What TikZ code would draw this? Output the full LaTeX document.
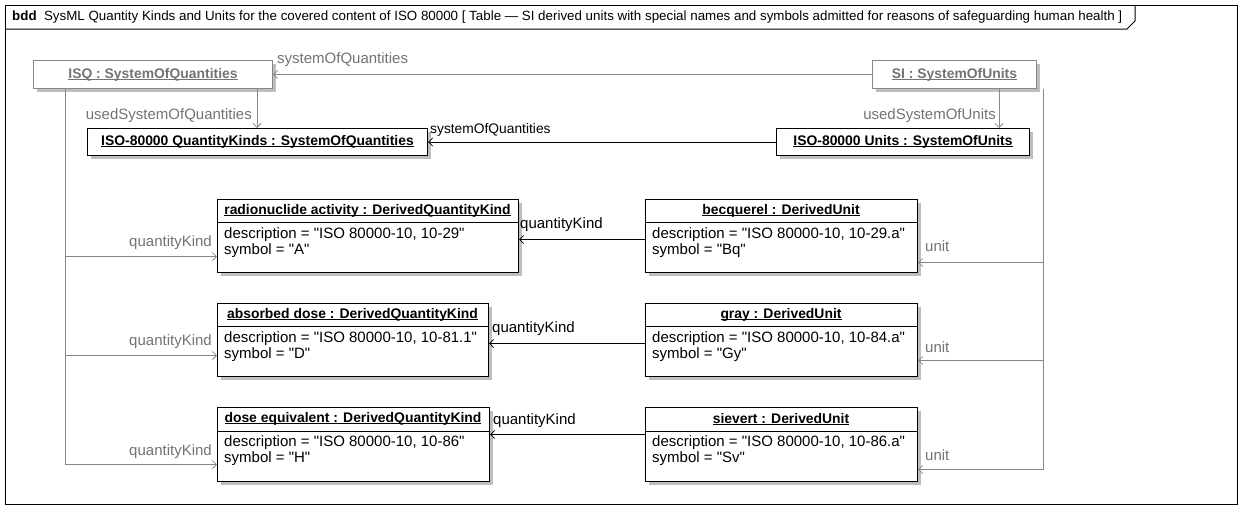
\documentclass[tikz,border=0pt]{standalone}
\usepackage{fontspec}
\setmainfont{Liberation Sans}[Ligatures=TeXOff]
\usetikzlibrary{arrows.meta,shadows}
\definecolor{gline}{RGB}{135,135,135}
\definecolor{gtext}{RGB}{115,115,115}
\definecolor{shade}{RGB}{190,190,190}
\newcommand\hul[1]{\setbox0\hbox{#1}\rlap{\rule[-1.6pt]{\wd0}{0.8pt}}\box0}
\tikzset{
  obox/.style={draw=black, line width=1pt, fill=white, anchor=north west, inner sep=0pt,
    drop shadow={shadow xshift=3pt, shadow yshift=-3pt, fill=shade, opacity=1}},
  gbox/.style={obox, draw=gline},
  hdr/.style={font=\fontsize{13.9}{15}\selectfont\bfseries, inner sep=0pt},
  ghdr/.style={hdr, text=gtext},
  attr/.style={font=\fontsize{15}{16}\selectfont, align=left, anchor=north west, inner sep=0pt},
  lbl/.style={font=\fontsize{15}{16}\selectfont, inner sep=0pt},
  glbl/.style={lbl, text=gtext},
  sepline/.style={line width=0.8pt},
  barb/.tip={Straight Barb[length=4pt,width=8pt,line width=0.8pt]},
  garrow/.style={draw=gline, line width=1pt, -barb},
  barrow/.style={draw=black, line width=1pt, -barb},
}
\begin{document}
\begin{tikzpicture}[x=1pt,y=-1pt]
\useasboundingbox (0,0) rectangle (1241,506);
% frame
\draw[line width=1pt] (5,5) rectangle (1237,504);
\draw[line width=1pt] (5,29) -- (1127,29) -- (1135,21) -- (1135,5);
\node[anchor=west, inner sep=0pt, font=\fontsize{13.35}{14}\selectfont] (title) at (12,17)
  {\textbf{bdd}\ \ SysML Quantity Kinds and Units for the covered content of ISO 80000 [ Table — SI derived units with special names and symbols admitted for reasons of safeguarding human health ]};

% top level boxes
\node[gbox, minimum width=239pt, minimum height=28pt] (ISQ) at (33,60) {};
\node[ghdr] (ISQh) at (ISQ.center) {\hul{ISQ : SystemOfQuantities}};
\node[gbox, minimum width=164pt, minimum height=28pt] (SI) at (872,60) {};
\node[ghdr] (SIh) at (SI.center) {\hul{SI : SystemOfUnits}};
\node[obox, minimum width=340pt, minimum height=27pt] (QK) at (87,128) {};
\node[hdr] (QKh) at (QK.center) {\hul{ISO-80000 QuantityKinds : SystemOfQuantities}};
\node[obox, minimum width=253pt, minimum height=27pt] (UN) at (776,128) {};
\node[hdr] (UNh) at (UN.center) {\hul{ISO-80000 Units : SystemOfUnits}};

% quantity kinds
\node[obox, minimum width=301pt, minimum height=73pt] (ra) at (217,199) {};
\draw[sepline] (217,222) -- (518,222);
\node[hdr] (rah) at (367.5,211) {\hul{radionuclide activity : DerivedQuantityKind}};
\node[attr] (raa) at (224,227) {description = "ISO 80000-10, 10-29"\\symbol = "A"};

\node[obox, minimum width=271pt, minimum height=73pt] (ab) at (217,303) {};
\draw[sepline] (217,326) -- (488,326);
\node[hdr] (abh) at (352.5,315) {\hul{absorbed dose : DerivedQuantityKind}};
\node[attr] (aba) at (224,331) {description = "ISO 80000-10, 10-81.1"\\symbol = "D"};

\node[obox, minimum width=272pt, minimum height=74pt] (de) at (217,407) {};
\draw[sepline] (217,431) -- (489,431);
\node[hdr] (deh) at (353,419) {\hul{dose equivalent : DerivedQuantityKind}};
\node[attr] (dea) at (224,435) {description = "ISO 80000-10, 10-86"\\symbol = "H"};

% units
\node[obox, minimum width=272pt, minimum height=73pt] (bq) at (645,199) {};
\draw[sepline] (645,222) -- (917,222);
\node[hdr] (bqh) at (781,211) {\hul{becquerel : DerivedUnit}};
\node[attr] (bqa) at (652,227) {description = "ISO 80000-10, 10-29.a"\\symbol = "Bq"};

\node[obox, minimum width=272pt, minimum height=73pt] (gy) at (645,303) {};
\draw[sepline] (645,326) -- (917,326);
\node[hdr] (gyh) at (781,315) {\hul{gray : DerivedUnit}};
\node[attr] (gya) at (652,331) {description = "ISO 80000-10, 10-84.a"\\symbol = "Gy"};

\node[obox, minimum width=272pt, minimum height=74pt] (sv) at (645,407) {};
\draw[sepline] (645,431) -- (917,431);
\node[hdr] (svh) at (781,419) {\hul{sievert : DerivedUnit}};
\node[attr] (sva) at (652,435) {description = "ISO 80000-10, 10-86.a"\\symbol = "Sv"};

% helper coordinates
\coordinate (isqX) at (65,0);
\coordinate (isqU) at (257,0);
\coordinate (siX) at (1043,0);
\coordinate (siU) at (999,0);

% connectors
\draw[garrow] (SI.west) -- (ISQ.east);
\node[glbl, anchor=west] (l1) at (277,60) {systemOfQuantities};
\draw[garrow] (ISQ.south -| isqU) -- (QK.north -| isqU);
\node[glbl, anchor=east] (l2) at (252,116) {usedSystemOfQuantities};
\draw[garrow] (SI.south -| siU) -- (UN.north -| siU);
\node[glbl, anchor=east] (l3) at (996,116) {usedSystemOfUnits};
\draw[barrow] (UN.west) -- (QK.east);
\node[lbl, anchor=west, font=\fontsize{13.8}{15}\selectfont] (l4) at (430,130) {systemOfQuantities};

\draw[garrow] (ISQ.south -| isqX) |- ([yshift=-20.5pt]ra.west);
\draw[garrow] (ISQ.south -| isqX) |- ([yshift=-15.5pt]ab.west);
\draw[garrow] (ISQ.south -| isqX) |- ([yshift=-20pt]de.west);
\node[glbl, anchor=east] (q1) at (212,243) {quantityKind};
\node[glbl, anchor=east] (q2) at (212,342) {quantityKind};
\node[glbl, anchor=east] (q3) at (212,452) {quantityKind};

\draw[barrow] ([yshift=-3.5pt]bq.west) -- ([yshift=-3.5pt]ra.east);
\draw[barrow] ([yshift=-3.5pt]gy.west) -- ([yshift=-3.5pt]ab.east);
\draw[barrow] ([yshift=10pt]sv.west) -- ([yshift=10pt]de.east);
\node[lbl, anchor=west] (k1) at (520,225) {quantityKind};
\node[lbl, anchor=west] (k2) at (492,329) {quantityKind};
\node[lbl, anchor=west] (k3) at (493,421) {quantityKind};

\draw[garrow] (SI.south -| siX) |- ([yshift=-26.5pt]bq.east);
\draw[garrow] (SI.south -| siX) |- ([yshift=-20.5pt]gy.east);
\draw[garrow] (SI.south -| siX) |- ([yshift=-25pt]sv.east);
\node[glbl, anchor=west] (u1) at (925,246) {unit};
\node[glbl, anchor=west] (u2) at (925,347) {unit};
\node[glbl, anchor=west] (u3) at (925,455) {unit};
\end{tikzpicture}
\end{document}
